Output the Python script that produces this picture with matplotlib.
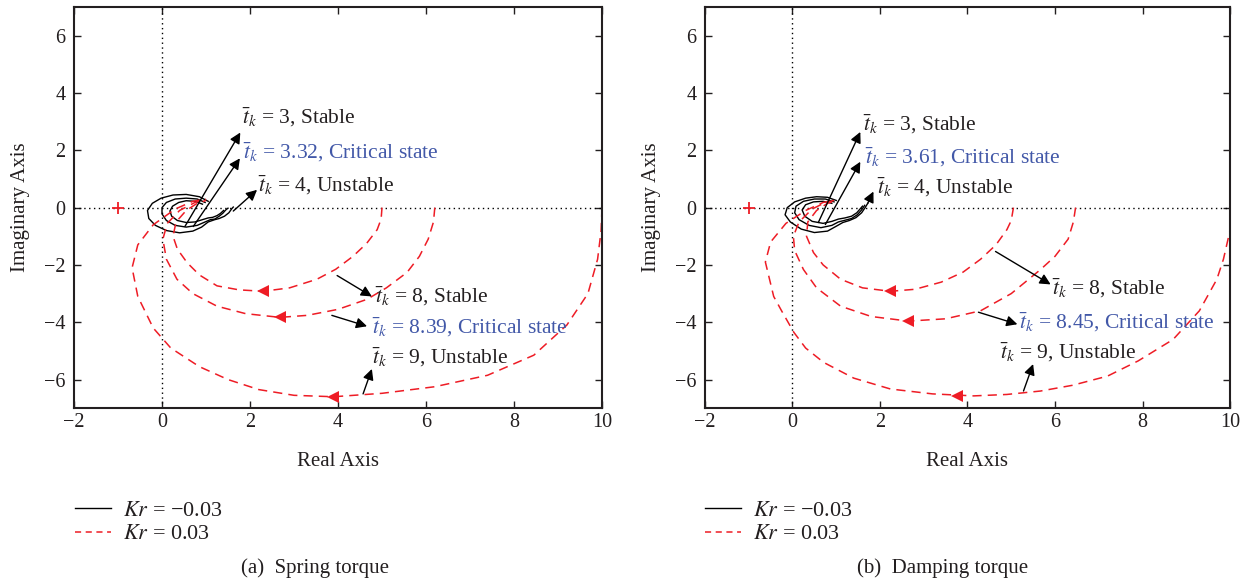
import matplotlib
matplotlib.use('Agg')
import matplotlib.pyplot as plt
from matplotlib.lines import Line2D

plt.rcParams['font.family'] = ['Liberation Serif', 'DejaVu Serif']
plt.rcParams['mathtext.fontset'] = 'stix'

# ---------------- data ----------------
# (a) spring torque, Kr = 0.03 (red dashed)
a_red1 = [(5.0, 0), (4.98, -0.4), (4.89, -0.77), (4.65, -1.25), (4.34, -1.7), (3.95, -2.15), (3.52, -2.5),
          (2.9, -2.8), (2.3, -2.92), (1.75, -2.87), (1.25, -2.73), (0.85, -2.35), (0.57, -1.92), (0.35, -1.45),
          (0.25, -1.0), (0.32, -0.5), (0.55, -0.1), (0.8, 0.15), (1.0, 0.25)]
a_red2 = [(6.2, 0), (6.17, -0.5), (6.05, -1.1), (5.85, -1.7), (5.57, -2.26), (5.1, -2.8), (4.66, -3.2),
          (4.0, -3.55), (3.3, -3.76), (2.68, -3.83), (1.9, -3.7), (1.25, -3.44), (0.7, -3.0), (0.34, -2.5),
          (0.1, -1.8), (0.02, -1.1), (0.12, -0.55), (0.4, -0.1), (0.75, 0.18), (1.0, 0.28)]
a_red3 = [(10.0, 0), (9.98, -0.8), (9.9, -1.8), (9.68, -3.0), (9.2, -4.1), (8.45, -5.15), (7.4, -5.85),
          (6.2, -6.25), (5.0, -6.48), (3.9, -6.6), (3.0, -6.55), (2.2, -6.35), (1.5, -6.0), (0.85, -5.55),
          (0.2, -4.9), (-0.2, -4.2), (-0.55, -3.1), (-0.68, -2.1), (-0.55, -1.3), (-0.2, -0.6), (0.3, -0.05),
          (0.7, 0.22), (1.0, 0.3)]
a_red_arrows = [(2.3, -2.92), (2.68, -3.83), (3.89, -6.6)]

# (a) spring torque, Kr = -0.03 (black solid)
a_blk1 = [(1.05, 0.22), (0.85, 0.38), (0.55, 0.46), (0.25, 0.44), (-0.02, 0.33), (-0.22, 0.15), (-0.33, -0.1),
          (-0.3, -0.38), (-0.15, -0.62), (0.1, -0.8), (0.4, -0.88), (0.7, -0.82), (0.9, -0.68), (1.05, -0.5),
          (1.2, -0.42), (1.3, -0.38), (1.42, -0.3), (1.52, -0.18), (1.58, -0.05), (1.62, 0.02)]
a_blk2 = [(0.98, 0.18), (0.8, 0.3), (0.55, 0.33), (0.3, 0.3), (0.1, 0.18), (0.0, 0.0), (0.0, -0.22),
          (0.1, -0.45), (0.3, -0.62), (0.55, -0.68), (0.8, -0.62), (0.98, -0.5), (1.1, -0.42), (1.2, -0.4),
          (1.3, -0.3), (1.38, -0.2), (1.45, -0.08), (1.5, -0.02)]
a_blk3 = [(0.92, 0.12), (0.75, 0.22), (0.55, 0.24), (0.38, 0.18), (0.24, 0.05), (0.18, -0.12), (0.22, -0.3),
          (0.35, -0.45), (0.55, -0.52), (0.75, -0.5), (0.92, -0.42), (1.05, -0.36), (1.15, -0.34),
          (1.25, -0.28), (1.33, -0.2), (1.4, -0.1)]

# (b) damping torque
b_red1 = [(5.05, 0), (5.0, -0.45), (4.9, -0.77), (4.65, -1.3), (4.3, -1.8), (3.9, -2.25), (3.4, -2.6),
          (2.8, -2.85), (2.24, -2.92), (1.6, -2.8), (1.1, -2.5), (0.7, -2.0), (0.48, -1.57), (0.32, -1.0),
          (0.35, -0.5), (0.55, -0.1), (0.8, 0.15), (0.95, 0.22)]
b_red2 = [(6.47, 0), (6.42, -0.5), (6.3, -1.1), (6.0, -1.7), (5.67, -2.16), (5.0, -3.0), (4.3, -3.6),
          (3.5, -3.88), (2.65, -3.96), (1.8, -3.8), (1.1, -3.44), (0.55, -2.8), (0.25, -2.16), (0.05, -1.5),
          (0.02, -1.0), (0.15, -0.5), (0.45, -0.05), (0.75, 0.18), (0.95, 0.25)]
b_red3 = [(10.0, 0), (10.0, -0.8), (9.85, -1.8), (9.7, -2.5), (9.3, -3.6), (8.7, -4.6), (7.9, -5.35),
          (7.2, -5.88), (6.4, -6.2), (5.67, -6.4), (4.9, -6.52), (4.14, -6.57), (3.2, -6.5), (2.24, -6.33),
          (1.4, -5.95), (0.71, -5.4), (0.3, -4.9), (0.03, -4.35), (-0.25, -3.6), (-0.43, -3.1), (-0.62, -1.9),
          (-0.5, -1.2), (-0.15, -0.55), (0.3, -0.1), (0.7, 0.18), (0.95, 0.25)]
b_red_arrows = [(2.24, -2.92), (2.65, -3.96), (3.77, -6.57)]

b_blk1 = [(1.0, 0.25), (0.8, 0.36), (0.55, 0.38), (0.3, 0.33), (0.05, 0.2), (-0.12, 0.0), (-0.17, -0.25),
          (-0.05, -0.5), (0.2, -0.75), (0.5, -0.87), (0.8, -0.82), (1.0, -0.65), (1.15, -0.52), (1.3, -0.45),
          (1.45, -0.35), (1.58, -0.18), (1.66, 0.0), (1.72, 0.15)]
b_blk2 = [(0.95, 0.2), (0.75, 0.3), (0.5, 0.3), (0.25, 0.22), (0.08, 0.05), (0.05, -0.18), (0.15, -0.42),
          (0.38, -0.62), (0.65, -0.7), (0.9, -0.62), (1.05, -0.5), (1.2, -0.44), (1.35, -0.38), (1.48, -0.25),
          (1.58, -0.08), (1.65, 0.08)]
b_blk3 = [(0.9, 0.15), (0.7, 0.22), (0.48, 0.2), (0.3, 0.1), (0.22, -0.08), (0.28, -0.3), (0.45, -0.48),
          (0.7, -0.55), (0.9, -0.48), (1.05, -0.4), (1.2, -0.36), (1.35, -0.3), (1.47, -0.18), (1.56, -0.02),
          (1.6, 0.05)]

# annotations: text, text position, arrow tail, arrow head, colour
a_notes = [
    (r'$\bar{t}_k$ = 3, Stable', (1.82, 3.17), (0.52, -0.66), (1.78, 2.62), 'k'),
    (r'$\bar{t}_k$ = 3.32, Critical state', (1.84, 1.95), (0.71, -0.66), (1.77, 1.72), 'b'),
    (r'$\bar{t}_k$ = 4, Unstable', (2.18, 0.8), (1.62, -0.12), (2.16, 0.62), 'k'),
    (r'$\bar{t}_k$ = 8, Stable', (4.84, -3.1), (3.98, -2.37), (4.77, -3.1), 'k'),
    (r'$\bar{t}_k$ = 8.39, Critical state', (4.77, -4.17), (3.86, -3.76), (4.66, -4.14), 'b'),
    (r'$\bar{t}_k$ = 9, Unstable', (4.77, -5.2), (4.57, -6.5), (4.77, -5.63), 'k'),
]
b_notes = [
    (r'$\bar{t}_k$ = 3, Stable', (1.62, 2.92), (0.59, -0.52), (1.55, 2.64), 'k'),
    (r'$\bar{t}_k$ = 3.61, Critical state', (1.65, 1.77), (0.75, -0.59), (1.55, 1.6), 'b'),
    (r'$\bar{t}_k$ = 4, Unstable', (1.94, 0.73), (1.72, 0.15), (1.85, 0.56), 'k'),
    (r'$\bar{t}_k$ = 8, Stable', (5.94, -2.82), (4.64, -1.53), (5.9, -2.68), 'k'),
    (r'$\bar{t}_k$ = 8.45, Critical state', (5.17, -4.0), (4.25, -3.65), (5.14, -4.07), 'b'),
    (r'$\bar{t}_k$ = 9, Unstable', (4.75, -5.04), (5.28, -6.4), (5.5, -5.46), 'k'),
]

x_ticks = [-2, 0, 2, 4, 6, 8, 10]
y_ticks = [-6, -4, -2, 0, 2, 4, 6]
legend_labels = [r'$Kr$ = −0.03', r'$Kr$ = 0.03']
captions = ['(a)  Spring torque', '(b)  Damping torque']

RED = '#ee1c25'
BLUE = '#4258a8'
INK = '#231f20'


def draw_panel(ax, reds, red_arrows, blacks, notes):
    ax.axhline(0, color='k', ls=(0, (1, 2.5)), lw=1)
    ax.axvline(0, color='k', ls=(0, (1, 2.5)), lw=1)
    for c in blacks:
        ax.plot([p[0] for p in c], [p[1] for p in c], color='k', lw=1)
    for c in reds:
        ax.plot([p[0] for p in c], [p[1] for p in c], color=RED, lw=1.1, ls=(0, (6, 4)))
    for p in red_arrows:
        ax.plot(p[0], p[1], marker='<', color=RED, markersize=8, markeredgewidth=0)
    ax.plot(-1, 0, marker='+', color=RED, markersize=9, markeredgewidth=1.3)
    for txt, pos, tail, head, col in notes:
        ax.annotate('', xy=head, xytext=tail,
                    arrowprops=dict(arrowstyle='-|>', color='k', lw=1, mutation_scale=16,
                                    shrinkA=0, shrinkB=0))
        ax.text(pos[0], pos[1], txt, color=BLUE if col == 'b' else INK,
                fontsize=15.5, ha='left', va='center')
    ax.set_xlim(-2, 10)
    ax.set_ylim(-7, 7)
    ax.set_xticks(x_ticks)
    ax.set_yticks(y_ticks)
    ax.tick_params(direction='in', top=True, right=True, labelsize=14.5, length=5, width=1,
                   colors=INK)
    ax.tick_params(axis='y', pad=6)
    ax.set_xlabel('Real Axis', fontsize=15, color=INK, labelpad=14)
    ax.set_ylabel('Imaginary Axis', fontsize=15, color=INK, labelpad=10)
    for s in ax.spines.values():
        s.set_linewidth(1.5)
        s.set_color(INK)


fig = plt.figure(figsize=(12.5, 5.84), dpi=100)
ax1 = fig.add_axes([0.0592, 0.301, 0.4224, 0.687])
ax2 = fig.add_axes([0.564, 0.301, 0.42, 0.687])

draw_panel(ax1, [a_red1, a_red2, a_red3], a_red_arrows, [a_blk1, a_blk2, a_blk3], a_notes)
draw_panel(ax2, [b_red1, b_red2, b_red3], b_red_arrows, [b_blk1, b_blk2, b_blk3], b_notes)

handles = [Line2D([], [], color='k', lw=1), Line2D([], [], color=RED, lw=1.1, ls=(0, (4, 3)))]
for x0, cap, cx in [(0.044, captions[0], 0.252), (0.548, captions[1], 0.754)]:
    fig.legend(handles, legend_labels, loc='upper left', bbox_to_anchor=(x0, 0.178),
               frameon=False, fontsize=16, handlelength=1.6, handletextpad=0.55,
               labelspacing=0.15, labelcolor=INK)
    fig.text(cx, 0.027, cap, ha='center', va='center', fontsize=15, color=INK)

fig.savefig('out.png', dpi=100)
